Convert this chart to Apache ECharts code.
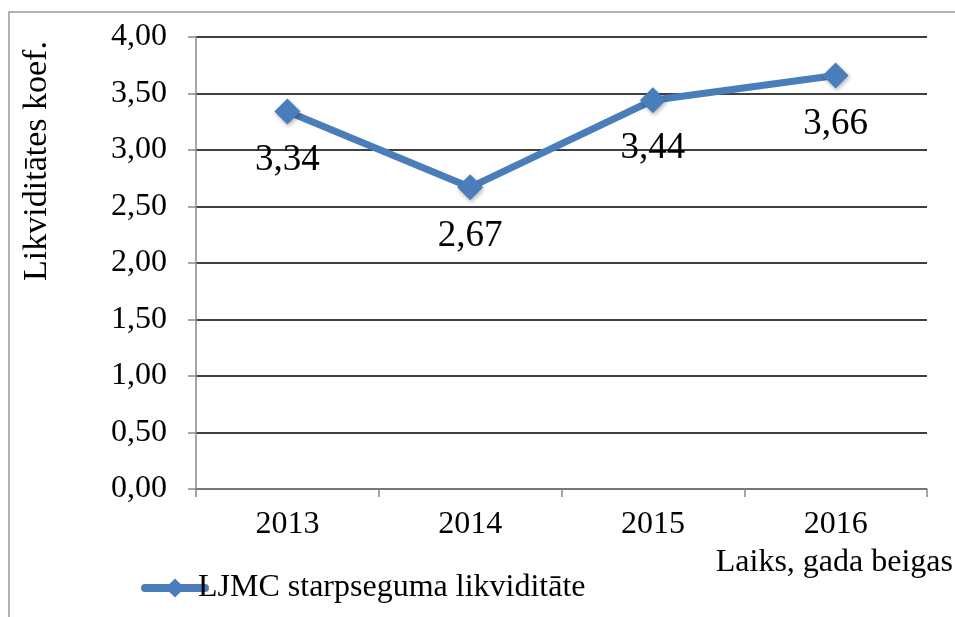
<!DOCTYPE html>
<html>
<head>
<meta charset="utf-8">
<script src="https://cdn.jsdelivr.net/npm/echarts@6/dist/echarts.min.js"></script>
<style>
  html, body { margin: 0; padding: 0; background: #fff; }
  #chart { width: 955px; height: 617px; }
</style>
</head>
<body>
<div id="chart"></div>
<script>
const years = ['2013', '2014', '2015', '2016']
const liquidity = [3.34, 2.67, 3.44, 3.66]
const seriesName = 'LJMC starpseguma likviditāte'
const yName = 'Likviditātes koef.'
const xName = 'Laiks, gada beigas'

const serif = '"Liberation Serif", "Times New Roman", serif'
const blue = '#4a7ebb'
const fmt = v => v.toFixed(2).replace('.', ',')

let chart = echarts.init(document.getElementById('chart'))
let option = {
  animation: false,
  textStyle: { fontFamily: serif },
  grid: { left: 196, right: 28, top: 37, bottom: 128 },
  legend: {
    left: 136,
    top: 567,
    itemWidth: 60,
    itemHeight: 24,
    itemGap: 0,
    lineStyle: { width: 8, cap: 'round' },
    textStyle: { fontFamily: serif, fontSize: 32, color: '#000', padding: [0, 0, 0, -12] },
    data: [seriesName]
  },
  xAxis: {
    type: 'category',
    data: years,
    boundaryGap: true,
    axisLine: { lineStyle: { color: '#888', width: 1.5 } },
    axisTick: { show: true, length: 8, lineStyle: { color: '#888', width: 1.5 } },
    axisLabel: { color: '#000', fontSize: 32, fontFamily: serif, margin: 20 }
  },
  yAxis: {
    type: 'value',
    min: 0,
    max: 4,
    interval: 0.5,
    axisLine: { show: true, lineStyle: { color: '#888', width: 1.5 } },
    axisTick: { show: true, length: 8, inside: false, lineStyle: { color: '#888', width: 1.5 } },
    axisLabel: { color: '#000', fontSize: 32, fontFamily: serif, margin: 29, formatter: fmt },
    splitLine: { lineStyle: { color: '#000', width: 1.5 } }
  },
  series: [
    {
      name: seriesName,
      type: 'line',
      data: liquidity,
      symbol: 'diamond',
      symbolSize: 26,
      lineStyle: { color: blue, width: 7 },
      itemStyle: { color: blue, shadowColor: 'rgba(0,0,0,0.3)', shadowBlur: 4, shadowOffsetX: 1, shadowOffsetY: 2 },
      label: {
        show: true,
        position: 'bottom',
        distance: 17,
        color: '#000',
        fontSize: 37,
        fontFamily: serif,
        formatter: p => fmt(p.value)
      }
    }
  ],
  graphic: [
    {
      type: 'rect',
      shape: { x: 9, y: 12, width: 1000, height: 700 },
      style: { fill: 'none', stroke: '#999', lineWidth: 1.5 },
      silent: true
    },
    {
      type: 'text',
      x: 37,
      y: 161,
      rotation: Math.PI / 2,
      style: {
        text: yName,
        font: '34px ' + serif,
        fill: '#000',
        align: 'center',
        verticalAlign: 'middle'
      }
    },
    {
      type: 'text',
      x: 953,
      y: 563,
      style: {
        text: xName,
        font: '32px ' + serif,
        fill: '#000',
        align: 'right',
        verticalAlign: 'middle'
      }
    }
  ]
}
chart.setOption(option)
window.addEventListener('resize', function() { chart.resize() })
</script>
</body>
</html>
